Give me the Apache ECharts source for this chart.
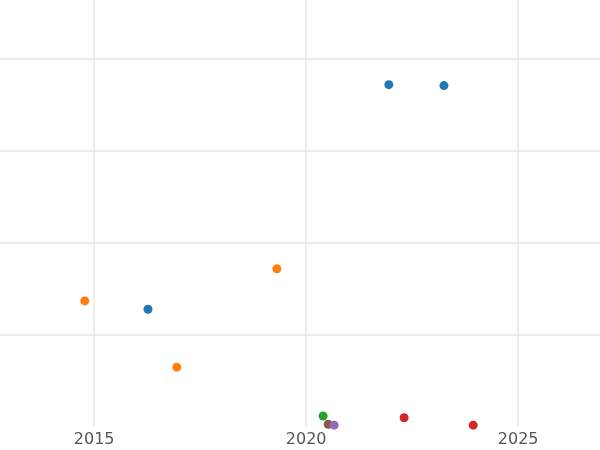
<!DOCTYPE html><html><head><meta charset="utf-8">
<script src="https://cdn.jsdelivr.net/npm/echarts@6/dist/echarts.min.js"></script>
<style>html,body{margin:0;padding:0;background:#fff}#c{width:600px;height:450px}</style></head><body><div id="c"></div><script>
const blueX=[2021.95,2023.25,2016.27], blueY=[3.72,3.71,1.28];
const orangeX=[2014.78,2016.95,2019.31], orangeY=[1.37,0.65,1.72];
const greenX=[2020.40], greenY=[0.12];
const brownX=[2020.52], brownY=[0.03];
const purpleX=[2020.66], purpleY=[0.02];
const redX=[2022.31,2023.94], redY=[0.10,0.02];
const xTicks=[2015,2020,2025];
const yTicks=[1,2,3,4];
const groups=[[blueX,blueY,'#1f77b4'],[orangeX,orangeY,'#ff7f0e'],[greenX,greenY,'#2ca02c'],[brownX,brownY,'#8c564b'],[purpleX,purpleY,'#9467bd'],[redX,redY,'#d62728']];
const chart=echarts.init(document.getElementById('c'));
const series=groups.map(g=>({type:'scatter',symbolSize:9,clip:true,z:3,itemStyle:{color:g[2],opacity:1},data:g[0].map((x,i)=>[x,g[1][i]])}));
series.unshift({type:'scatter',data:[],z:1,markLine:{silent:true,symbol:'none',animation:false,
 lineStyle:{color:'#e6e6e6',width:1.5,type:'solid'},
 label:{position:'start',color:'#555',fontSize:16,fontFamily:'DejaVu Sans',distance:5},
 data:[...xTicks.map(v=>({xAxis:v,label:{formatter:String(v)}})),
       ...yTicks.map(v=>({yAxis:v,label:{show:false}}))]}});
chart.setOption({animation:false,
grid:{left:0,right:0,top:0,bottom:23},
xAxis:{type:'value',min:2012.78,max:2026.93,axisLine:{show:false},axisTick:{show:false},axisLabel:{show:false},splitLine:{show:false}},
yAxis:{type:'value',min:0,max:4.64,axisLine:{show:false},axisTick:{show:false},axisLabel:{show:false},splitLine:{show:false}},
series
});
</script></body></html>
